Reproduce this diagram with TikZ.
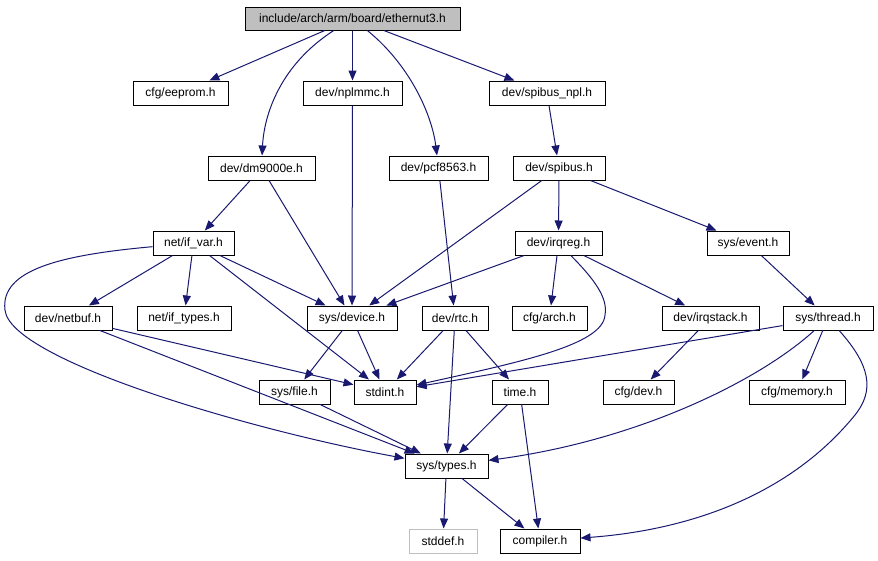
\documentclass[tikz,border=0pt]{standalone}
\usepackage{fontspec}
\setmainfont{Liberation Sans}
\usetikzlibrary{arrows.meta}
\definecolor{edgeblue}{HTML}{191970}
\definecolor{rootgray}{HTML}{BFBFBF}
\begin{document}
\begin{tikzpicture}[x=1pt,y=-1pt,
  hdr/.style={draw=black, line width=1pt, inner sep=0pt, minimum height=24, font=\fontsize{12}{14}\selectfont},
  dep/.style={draw=edgeblue, line width=1pt, -{Triangle[length=10pt,width=8pt,fill=edgeblue]}}]
\useasboundingbox (0,0) rectangle (878,560);
% headers, row by row
\node[hdr, fill=rootgray, minimum width=215, minimum height=23] (root) at (352.5,18.5) {include/arch/arm/board/ethernut3.h};
\node[hdr, minimum width=95] (eeprom) at (180.5,93) {cfg/eeprom.h};
\node[hdr, minimum width=99] (nplmmc) at (352.5,93) {dev/nplmmc.h};
\node[hdr, minimum width=116] (spinpl) at (547,93) {dev/spibus\_npl.h};
\node[hdr, minimum width=107] (dm9000e) at (261.5,168) {dev/dm9000e.h};
\node[hdr, minimum width=99] (pcf8563) at (438.5,168) {dev/pcf8563.h};
\node[hdr, minimum width=92] (spibus) at (559,168) {dev/spibus.h};
\node[hdr, minimum width=81] (ifvar) at (193.5,243) {net/if\_var.h};
\node[hdr, minimum width=87] (irqreg) at (558.5,243) {dev/irqreg.h};
\node[hdr, minimum width=82] (event) at (748,243) {sys/event.h};
\node[hdr, minimum width=88] (netbuf) at (68,318) {dev/netbuf.h};
\node[hdr, minimum width=94] (iftypes) at (184,318) {net/if\_types.h};
\node[hdr, minimum width=90] (device) at (352,318) {sys/device.h};
\node[hdr, minimum width=66] (rtc) at (455,318) {dev/rtc.h};
\node[hdr, minimum width=75] (arch) at (549.5,318) {cfg/arch.h};
\node[hdr, minimum width=97] (irqstack) at (710.5,318) {dev/irqstack.h};
\node[hdr, minimum width=90] (thread) at (828,318) {sys/thread.h};
\node[hdr, minimum width=71] (file) at (294.5,392) {sys/file.h};
\node[hdr, minimum width=62] (stdint) at (385,392) {stdint.h};
\node[hdr, minimum width=56] (time) at (520,392) {time.h};
\node[hdr, minimum width=71] (cfgdev) at (638.5,392) {cfg/dev.h};
\node[hdr, minimum width=96] (memory) at (797,392) {cfg/memory.h};
\node[hdr, minimum width=83] (types) at (446.5,466) {sys/types.h};
\node[hdr, draw=rootgray, minimum width=68] (stddef) at (443,541) {stddef.h};
\node[hdr, minimum width=80] (compiler) at (540,541) {compiler.h};
% includes
\path[dep] (root) -- (eeprom);
\path[dep] (root) -- (nplmmc);
\path[dep] (root) -- (spinpl);
\path[dep] (root) .. controls (280,65) and (264,115) .. (dm9000e);
\path[dep] (root) .. controls (410,65) and (432,115) .. (pcf8563);
\path[dep] (nplmmc) -- (device);
\path[dep] (spinpl) -- (spibus);
\path[dep] (dm9000e) -- (ifvar);
\path[dep] (dm9000e) -- (device);
\path[dep] (pcf8563) -- (rtc);
\path[dep] (spibus) -- (device);
\path[dep] (spibus) -- (irqreg);
\path[dep] (spibus) -- (event);
\path[dep] (ifvar) -- (netbuf);
\path[dep] (ifvar) -- (iftypes);
\path[dep] (ifvar) -- (device);
\path[dep] (ifvar) -- (stdint);
\path[dep] (ifvar) .. controls (60,255) and (0,270) .. (5,310) .. controls (10,360) and (250,430) .. (types);
\path[dep] (irqreg) -- (device);
\path[dep] (irqreg) -- (arch);
\path[dep] (irqreg) -- (irqstack);
\path[dep] (irqreg) .. controls (595,280) and (608,298) .. (605,315) .. controls (603,345) and (520,362) .. (stdint);
\path[dep] (event) -- (thread);
\path[dep] (netbuf) -- (stdint);
\path[dep] (netbuf) -- (types);
\path[dep] (device) -- (file);
\path[dep] (device) -- (stdint);
\path[dep] (rtc) -- (stdint);
\path[dep] (rtc) -- (types);
\path[dep] (rtc) -- (time);
\path[dep] (irqstack) -- (cfgdev);
\path[dep] (thread) -- (stdint);
\path[dep] (thread) .. controls (760,380) and (640,440) .. (types);
\path[dep] (thread) -- (memory);
\path[dep] (thread) .. controls (870,365) and (875,390) .. (855,415) .. controls (790,495) and (690,530) .. (compiler);
\path[dep] (file) -- (types);
\path[dep] (time) -- (types);
\path[dep] (time) -- (compiler);
\path[dep] (types) -- (stddef);
\path[dep] (types) -- (compiler);
\end{tikzpicture}
\end{document}
